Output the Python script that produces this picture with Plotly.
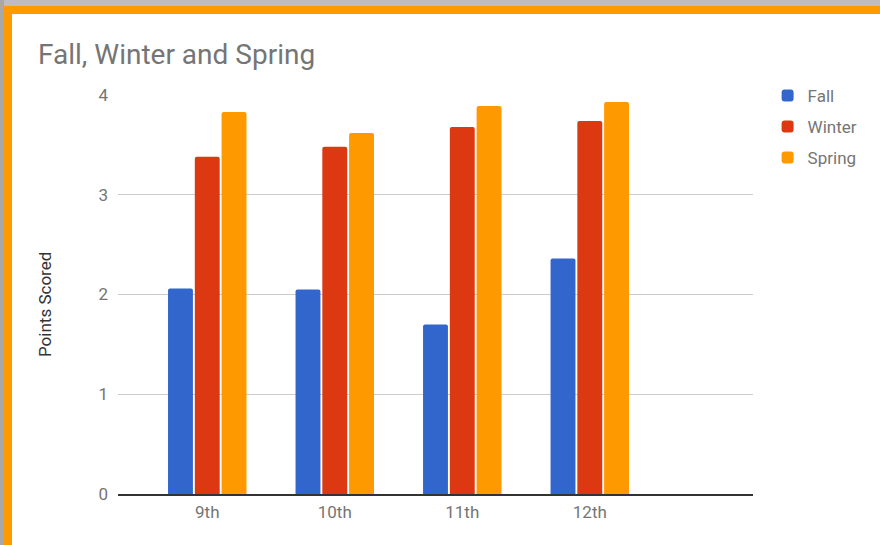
import plotly.graph_objects as go

# grades and the three terms
grades = ["9th", "10th", "11th", "12th"]
fall = [2.06, 2.05, 1.70, 2.36]
winter = [3.38, 3.48, 3.68, 3.74]
spring = [3.83, 3.62, 3.89, 3.93]

W, H = 880, 545
ml, mr, mt, mb = 118, 127, 95, 51
pw = W - ml - mr
ph = H - mt - mb

def px_x(x):
    return (x - ml) / pw

def px_y(y):
    return (H - mb - y) / ph

fig = go.Figure()
fig.add_trace(go.Bar(x=grades, y=fall, name="Fall", marker_color="#3366cc", legendgroup="a"))
fig.add_trace(go.Bar(x=grades, y=winter, name="Winter", marker_color="#dc3912", legendgroup="b"))
fig.add_trace(go.Bar(x=grades, y=spring, name="Spring", marker_color="#ff9900", legendgroup="c"))

fig.update_traces(marker_cornerradius=2, marker_line_width=0)

# screenshot frame: gray strip + orange border
shapes = [
    dict(type="rect", xref="paper", yref="paper", x0=px_x(0), x1=px_x(W), y0=px_y(0), y1=px_y(6),
         fillcolor="#bdbdbd", line_width=0),
    dict(type="rect", xref="paper", yref="paper", x0=px_x(0), x1=px_x(4), y0=px_y(0), y1=px_y(H),
         fillcolor="#a8a8a8", line_width=0),
    dict(type="rect", xref="paper", yref="paper", x0=px_x(4), x1=px_x(W), y0=px_y(6), y1=px_y(14),
         fillcolor="#ff9900", line_width=0),
    dict(type="rect", xref="paper", yref="paper", x0=px_x(4), x1=px_x(12), y0=px_y(6), y1=px_y(H),
         fillcolor="#ff9900", line_width=0),
]

fig.update_layout(
    width=W, height=H,
    margin=dict(l=ml, r=mr, t=mt, b=mb, autoexpand=False),
    paper_bgcolor="white", plot_bgcolor="white",
    font=dict(family="Roboto", color="#757575", size=17),
    title=dict(text="Fall, Winter and Spring", font=dict(size=28, color="#757575"),
               xref="container", yref="container", x=38 / W, xanchor="left",
               y=1 - 54 / H, yanchor="middle"),
    barmode="group", bargap=0.37, bargroupgap=0.07,
    shapes=shapes,
    legend=dict(x=1.023, y=1.043, xanchor="left", yanchor="top", tracegroupgap=6,
                font=dict(size=17, color="#757575")),
    annotations=[dict(text="Points Scored", textangle=-90, xref="paper", yref="paper",
                      x=px_x(45), y=px_y(305), xanchor="center", yanchor="middle",
                      showarrow=False, font=dict(size=17, color="#333333"))],
)

fig.update_xaxes(range=[-0.7, 4.28], showline=True, linecolor="#333333", linewidth=1.5,
                 showgrid=False, ticks="", ticklabelstandoff=2)
fig.update_yaxes(range=[0, 4], dtick=1, showgrid=True, gridcolor="#cccccc", zeroline=False,
                 ticklabelstandoff=9)

fig.write_html("out.html", config={"displayModeBar": False},
               post_script="document.body.style.margin='0';document.body.style.overflow='hidden';")
